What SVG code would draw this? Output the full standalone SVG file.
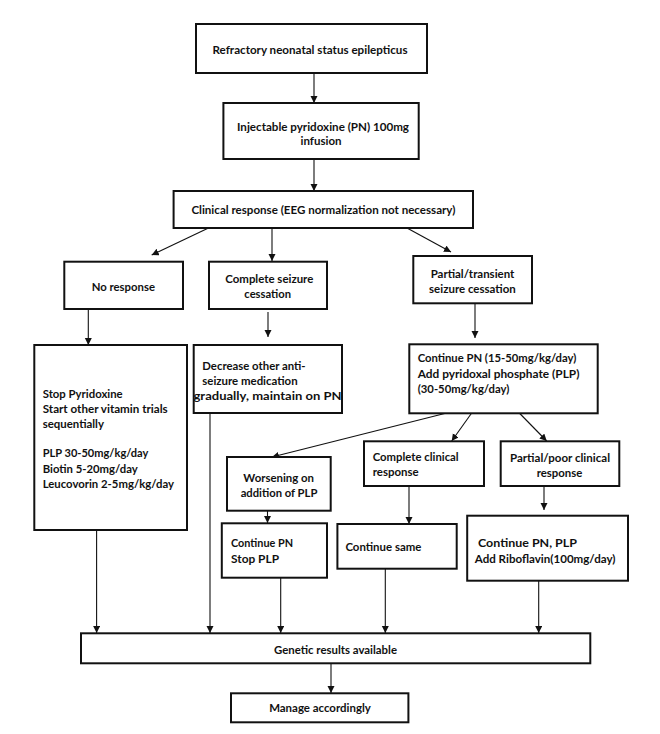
<svg xmlns="http://www.w3.org/2000/svg" width="660" height="734" viewBox="0 0 660 734">
<style>
rect.b{fill:#fff;stroke:#111;stroke-width:2}
text{font-family:Lato,"Liberation Sans",sans-serif;font-weight:bold;font-size:12px;fill:#111}
.c{text-anchor:middle}
#connectors line{stroke:#111;stroke-width:1.1;fill:none}
</style>
<defs>
<marker id="ah" markerUnits="userSpaceOnUse" markerWidth="8" markerHeight="8" refX="7" refY="3.5" orient="auto">
<path d="M0,0 L7,3.5 L0,7 Z" fill="#111"/>
</marker>
</defs>
<rect width="660" height="734" fill="#fff"/>
<g id="connectors" marker-end="url(#ah)">
<line x1="314" y1="73" x2="314" y2="103" marker-end="url(#ah)"/>
<line x1="314" y1="159" x2="314" y2="191" marker-end="url(#ah)"/>
<line x1="208.5" y1="228" x2="151.7" y2="255" marker-end="url(#ah)"/>
<line x1="272" y1="228" x2="272" y2="261" marker-end="url(#ah)"/>
<line x1="407" y1="228" x2="451" y2="252" marker-end="url(#ah)"/>
<line x1="88.3" y1="309" x2="88.3" y2="345" marker-end="url(#ah)"/>
<line x1="268" y1="312" x2="268" y2="337" marker-end="url(#ah)"/>
<line x1="475" y1="303" x2="475" y2="338" marker-end="url(#ah)"/>
<line x1="446.7" y1="413" x2="272" y2="457" marker-end="url(#ah)"/>
<line x1="471.7" y1="413" x2="451.7" y2="441" marker-end="url(#ah)"/>
<line x1="519.3" y1="413" x2="546.7" y2="441" marker-end="url(#ah)"/>
<line x1="267.5" y1="511" x2="267.5" y2="523" marker-end="url(#ah)"/>
<line x1="409" y1="486" x2="409" y2="524" marker-end="url(#ah)"/>
<line x1="544" y1="486" x2="544" y2="510" marker-end="url(#ah)"/>
<line x1="96.6" y1="530" x2="96.6" y2="633" marker-end="url(#ah)"/>
<line x1="210" y1="413" x2="210" y2="633" marker-end="url(#ah)"/>
<line x1="280.7" y1="578" x2="280.7" y2="633" marker-end="url(#ah)"/>
<line x1="385.3" y1="569" x2="385.3" y2="633" marker-end="url(#ah)"/>
<line x1="538.7" y1="581" x2="538.7" y2="633" marker-end="url(#ah)"/>
<line x1="331" y1="663" x2="331" y2="693" marker-end="url(#ah)"/>
</g>
<g id="n1"><rect class="b" x="196" y="24" width="231" height="49"/>
<text class="c" x="310" y="53.5" textLength="195" lengthAdjust="spacingAndGlyphs">Refractory neonatal status epilepticus</text></g>
<g id="n2"><rect class="b" x="223.4" y="103" width="195.3" height="56"/>
<text class="c" x="323" y="130.5" textLength="172" lengthAdjust="spacingAndGlyphs">Injectable pyridoxine (PN) 100mg</text>
<text class="c" x="321" y="144.5" textLength="41" lengthAdjust="spacingAndGlyphs">infusion</text></g>
<g id="n3"><rect class="b" x="173.6" y="191" width="299.4" height="37"/>
<text class="c" x="323.4" y="214" textLength="264" lengthAdjust="spacingAndGlyphs">Clinical response (EEG normalization not necessary)</text></g>
<g id="n4"><rect class="b" x="64.3" y="261.7" width="118.7" height="47.3"/>
<text class="c" x="123.3" y="291" textLength="63.3" lengthAdjust="spacingAndGlyphs">No response</text></g>
<g id="n5"><rect class="b" x="209" y="261.7" width="118" height="47.3"/>
<text class="c" x="269.3" y="283" textLength="88" lengthAdjust="spacingAndGlyphs">Complete seizure</text>
<text class="c" x="267.7" y="297.5" textLength="46.7" lengthAdjust="spacingAndGlyphs">cessation</text></g>
<g id="n6"><rect class="b" x="413.3" y="256" width="118.7" height="47.3"/>
<text class="c" x="472.5" y="278" textLength="83.7" lengthAdjust="spacingAndGlyphs">Partial/transient</text>
<text class="c" x="472.4" y="293" textLength="86.7" lengthAdjust="spacingAndGlyphs">seizure cessation</text></g>
<g id="n7"><rect class="b" x="34.3" y="345" width="152.7" height="185"/>
<text x="42.7" y="398" textLength="80" lengthAdjust="spacingAndGlyphs">Stop Pyridoxine</text>
<text x="42.7" y="413" textLength="125" lengthAdjust="spacingAndGlyphs">Start other vitamin trials</text>
<text x="42.7" y="428" textLength="61.3" lengthAdjust="spacingAndGlyphs">sequentially</text>
<text x="42.7" y="457" textLength="105.7" lengthAdjust="spacingAndGlyphs">PLP 30-50mg/kg/day</text>
<text x="42.7" y="472.5" textLength="95" lengthAdjust="spacingAndGlyphs">Biotin 5-20mg/day</text>
<text x="42.7" y="487.5" textLength="131.3" lengthAdjust="spacingAndGlyphs">Leucovorin 2-5mg/kg/day</text></g>
<g id="n8"><rect class="b" x="193.7" y="345" width="148.3" height="68"/>
<text x="202.3" y="370" textLength="103.3" lengthAdjust="spacingAndGlyphs">Decrease other anti-</text>
<text x="202.3" y="384.5" textLength="95.3" lengthAdjust="spacingAndGlyphs">seizure medication</text>
<text x="193.5" y="400" textLength="148" lengthAdjust="spacingAndGlyphs">gradually, maintain on PN</text></g>
<g id="n9"><rect class="b" x="409.3" y="344.3" width="188.4" height="69"/>
<text x="417.7" y="362" textLength="158.7" lengthAdjust="spacingAndGlyphs">Continue PN (15-50mg/kg/day)</text>
<text x="417.7" y="378" textLength="161.7" lengthAdjust="spacingAndGlyphs">Add pyridoxal phosphate (PLP)</text>
<text x="417.7" y="393" textLength="91.7" lengthAdjust="spacingAndGlyphs">(30-50mg/kg/day)</text></g>
<g id="n10"><rect class="b" x="227" y="457" width="103.7" height="53.7"/>
<text class="c" x="278.7" y="482" textLength="70.7" lengthAdjust="spacingAndGlyphs">Worsening on</text>
<text class="c" x="279" y="497" textLength="76.7" lengthAdjust="spacingAndGlyphs">addition of PLP</text></g>
<g id="n11"><rect class="b" x="364" y="441.3" width="120" height="44.7"/>
<text x="372.7" y="461" textLength="86" lengthAdjust="spacingAndGlyphs">Complete clinical</text>
<text x="372.7" y="476" textLength="46" lengthAdjust="spacingAndGlyphs">response</text></g>
<g id="n12"><rect class="b" x="500.7" y="441.3" width="118.6" height="44.7"/>
<text class="c" x="560" y="462" textLength="100" lengthAdjust="spacingAndGlyphs">Partial/poor clinical</text>
<text class="c" x="559.5" y="477" textLength="45.7" lengthAdjust="spacingAndGlyphs">response</text></g>
<g id="n13"><rect class="b" x="221.8" y="523.3" width="105.2" height="54.4"/>
<text x="231" y="547" textLength="62" lengthAdjust="spacingAndGlyphs">Continue PN</text>
<text x="231" y="563" textLength="48" lengthAdjust="spacingAndGlyphs">Stop PLP</text></g>
<g id="n14"><rect class="b" x="337.4" y="524" width="119.3" height="44.7"/>
<text x="345.4" y="551" textLength="76" lengthAdjust="spacingAndGlyphs">Continue same</text></g>
<g id="n15"><rect class="b" x="467.2" y="515.7" width="160.8" height="65"/>
<text x="478" y="547" textLength="99" lengthAdjust="spacingAndGlyphs">Continue PN, PLP</text>
<text x="474.8" y="563" textLength="140.7" lengthAdjust="spacingAndGlyphs">Add Riboflavin(100mg/day)</text></g>
<g id="n16"><rect class="b" x="81" y="633.3" width="509.3" height="30"/>
<text class="c" x="335.5" y="654" textLength="123" lengthAdjust="spacingAndGlyphs">Genetic results available</text></g>
<g id="n17"><rect class="b" x="231" y="693.3" width="177.4" height="29"/>
<text class="c" x="320" y="712" textLength="101.7" lengthAdjust="spacingAndGlyphs">Manage accordingly</text></g>
</svg>
